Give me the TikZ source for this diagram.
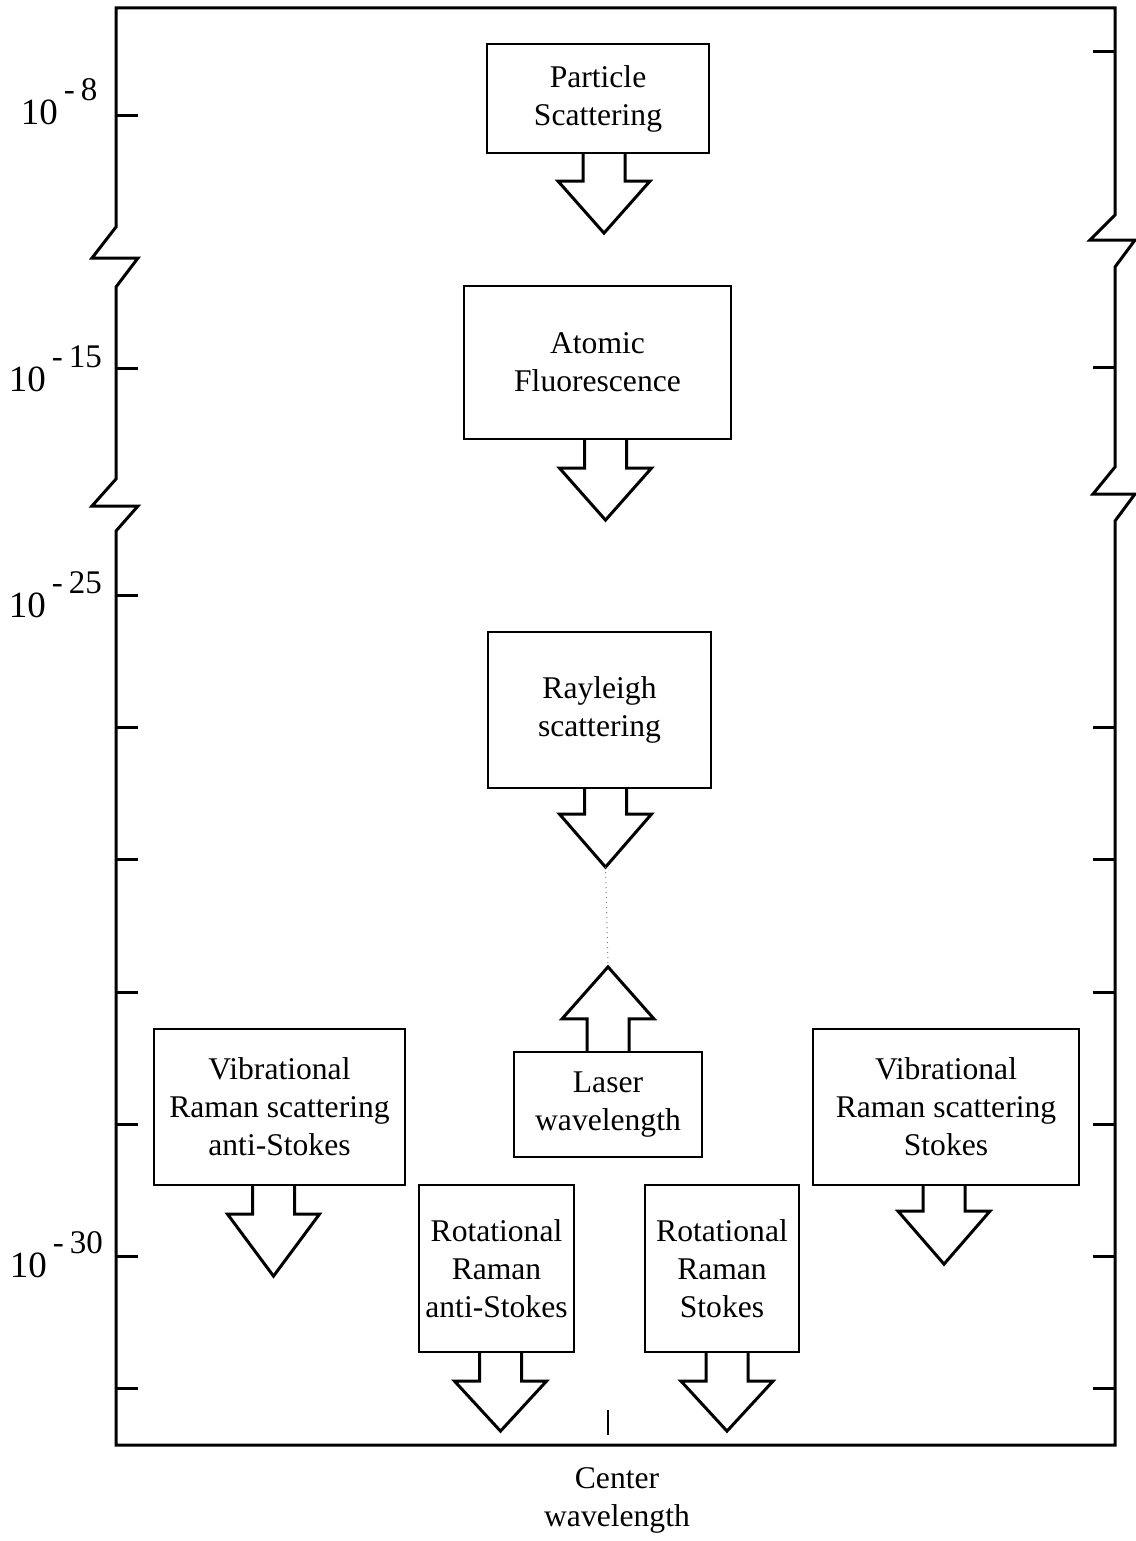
\documentclass[tikz,border=0pt]{standalone}
\usepackage{tikz}
\usepackage{xcolor}
\usepackage{fontspec}
\setmainfont{Liberation Serif}
\newcommand{\expo}[1]{10\hspace{3pt}\raisebox{12pt}{\fontsize{16.5}{16.5}\selectfont -\hspace{3pt}#1}}
\tikzset{pics/fatarrow/.style 2 args={code={
  \draw[line width=1.5pt, line join=miter] (-21,0) -- (-21,#1) -- (-46,#1) -- (0,#1+#2) coordinate (-tip) -- (46,#1) -- (21,#1) -- (21,0);
}}}

\begin{document}
\begin{tikzpicture}[x=0.5pt, y=-0.5pt, thick]
\tikzstyle{box}=[rectangle, draw, line width=1.1pt, align=center, inner sep=0pt, font=\fontsize{15.8}{19}\selectfont]
\tikzstyle{axis}=[line width=1.5pt, line join=miter]
\tikzstyle{scalelbl}=[anchor=base west, inner sep=0pt, font=\fontsize{18.5}{20}\selectfont]
\useasboundingbox (0,0) rectangle (1135,1541);
% frame with axis breaks
\draw[axis] (116,1445) -- (116,531) -- (138,506) -- (92,506) -- (116,479) -- (116,287) -- (138,258) -- (92,258) -- (116,227) -- (116,8)
  -- (1115,8) -- (1115,215) -- (1090,240) -- (1135,240) -- (1115,267) -- (1115,467) -- (1093,494) -- (1135,494) -- (1115,521) -- (1115,1445) -- cycle;
\foreach \y in {116,368,595,727,859,992,1124,1256,1388} \draw[axis] (116,\y) -- (138,\y);
\foreach \y in {52,367,727,859,992,1124,1256,1388} \draw[axis] (1093,\y) -- (1115,\y);
\node[scalelbl] (e8) at (20,125) {\expo{8}};
\node[scalelbl] (e15) at (8,391) {\expo{15}};
\node[scalelbl] (e25) at (8,617) {\expo{25}};
\node[scalelbl] (e30) at (9,1277) {\expo{30}};
% boxes
\node[box, minimum width=111pt, minimum height=54.5pt] (pscat) at (598,98.5) {Particle\\Scattering};
\node[box, minimum width=133.5pt, minimum height=76.5pt] (afluo) at (597.5,362.5) {Atomic\\Fluorescence};
\node[box, minimum width=111.5pt, minimum height=78pt] (rayl) at (599.5,710) {Rayleigh\\scattering};
\node[box, minimum width=94pt, minimum height=52.5pt] (laser) at (608,1104.5) {Laser\\wavelength};
\node[box, minimum width=125.5pt, minimum height=78pt] (vibas) at (279.5,1107) {Vibrational\\Raman scattering\\anti-Stokes};
\node[box, minimum width=133pt, minimum height=78pt] (vibs) at (946,1107) {Vibrational\\Raman scattering\\Stokes};
\node[box, minimum width=77.5pt, minimum height=83.5pt] (rotas) at (496.5,1268.5) {Rotational\\Raman\\anti-Stokes};
\node[box, minimum width=77pt, minimum height=83.5pt] (rots) at (722,1268.5) {Rotational\\Raman\\Stokes};
% block arrows
\pic (pa) at ([xshift=3pt]pscat.south) {fatarrow={27}{52}};
\pic (aa) at ([xshift=4pt]afluo.south) {fatarrow={28}{52}};
\pic (ra) at ([xshift=3pt]rayl.south) {fatarrow={25}{53}};
\pic[yscale=-1] (la) at (laser.north) {fatarrow={32}{52}};
\pic (va) at ([xshift=-3pt]vibas.south) {fatarrow={28}{62}};
\pic (vs) at ([xshift=-1pt]vibs.south) {fatarrow={25}{53}};
\pic (rta) at ([xshift=2pt]rotas.south) {fatarrow={28}{50}};
\pic (rts) at ([xshift=2.5pt]rots.south) {fatarrow={28}{50}};
\draw[dotted, line width=0.5pt, gray] (ra-tip) -- (la-tip);
% centre mark
\draw[line width=1.2pt] (608,1410) -- (608,1435);
\node[align=center, inner sep=0pt, font=\fontsize{15.8}{19}\selectfont] (cw) at (617,1500) {Center\\wavelength};
\end{tikzpicture}
\end{document}
